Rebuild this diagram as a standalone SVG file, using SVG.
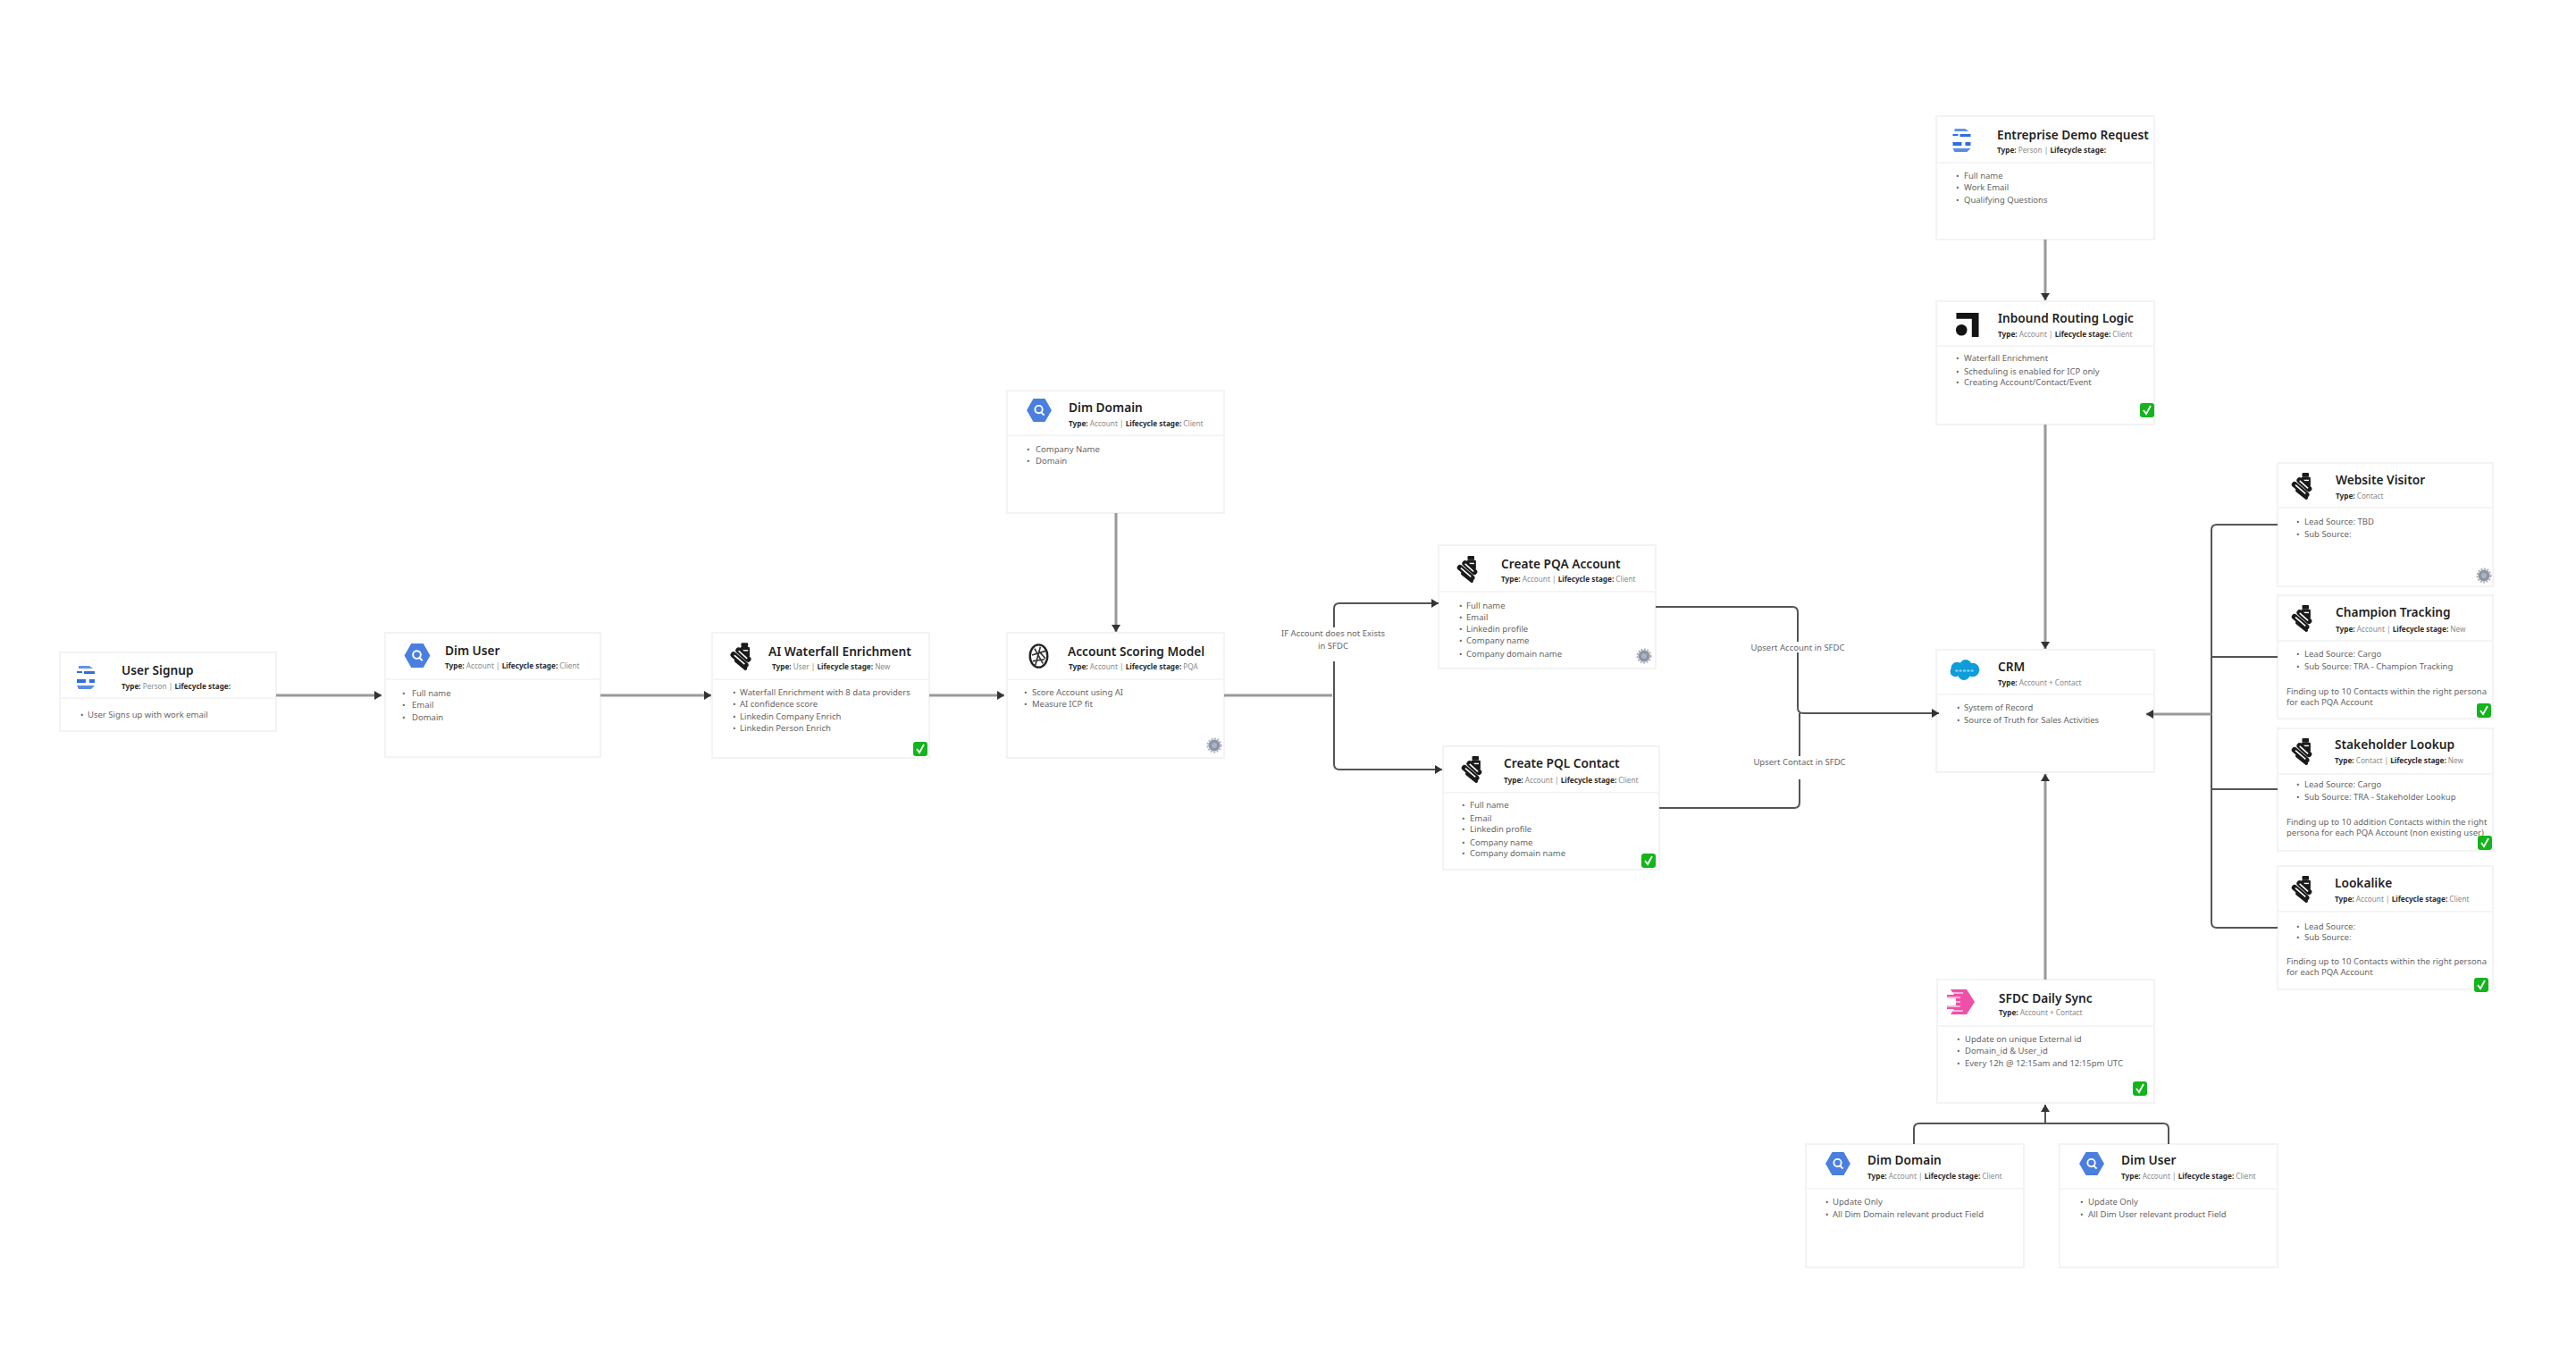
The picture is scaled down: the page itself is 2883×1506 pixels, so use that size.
<svg xmlns="http://www.w3.org/2000/svg" width="2883" height="1506" viewBox="0 0 2883 1506">
<style>
text{font-family:"Noto Sans","Open Sans","Liberation Sans",sans-serif}
.card{fill:#fff;stroke:#f3f3f3;stroke-width:2}
.sep{stroke:#f5f5f5;stroke-width:2}
.t{font-size:13.700px;font-weight:600;fill:#1f1f1f}
.m{font-size:8.200px;fill:#8a8a8a}
.m tspan{font-weight:700;fill:#2b2b2b}
.b{font-size:9.500px;fill:#666}
.l{font-size:9.500px;fill:#666;text-anchor:middle}
.c{fill:none;stroke:#555;stroke-width:2}
.g{fill:none;stroke:#999;stroke-width:3}
</style>
<defs>
<marker id="ah" markerUnits="userSpaceOnUse" markerWidth="9" markerHeight="10" refX="8" refY="5" orient="auto"><path d="M0 0L8 5L0 10Z" fill="#333"/></marker>
<symbol id="form" viewBox="0 0 20 26" overflow="visible"><g fill="#2f6fe0"><path d="M2 0H14L18 3H2Z" opacity=".75"/><rect x="0" y="6" width="6" height="2"/><rect x="8" y="6" width="12" height="3"/><rect x="0" y="15" width="10" height="4"/><rect x="14" y="15" width="6" height="4"/><path d="M0 22H20L16 26H2Z" opacity=".8"/></g></symbol>
<symbol id="bq" viewBox="0 0 30 28" overflow="visible"><path d="M8 0H22L30 14L22 28H8L0 14Z" fill="#4a7fe0"/><circle cx="14.500" cy="13" r="4.500" fill="none" stroke="#fff" stroke-width="2"/><path d="M17 16L21 20" stroke="#fff" stroke-width="2"/></symbol>
<symbol id="clay" viewBox="0 0 24 32" overflow="visible"><rect x="12" y="0" width="8" height="5" rx="1" fill="#1a1a1a"/><rect x="11" y="5" width="11" height="11" rx="1" fill="#1a1a1a"/><path d="M14 9H20" stroke="#fff" stroke-width="1.500"/><path d="M9 9L20 19M3 14L17 26" stroke="#1a1a1a" stroke-width="7" stroke-linecap="round" fill="none"/><path d="M9 9.500L19 18.500M4 14.500L16 25" stroke="#fff" stroke-width="1.600" fill="none"/><path d="M6 21L17 30" stroke="#1a1a1a" stroke-width="4" stroke-linecap="round"/></symbol>
<symbol id="ai" viewBox="0 0 24 30" overflow="visible"><ellipse cx="12" cy="15" rx="10.500" ry="13.500" fill="none" stroke="#222" stroke-width="2.500"/><path d="M7 6L17 24M4 14L20 9M5 21L19 19M14 4L8 26M12 9L20 18" stroke="#333" stroke-width="1.800" fill="none"/></symbol>
<symbol id="route" viewBox="0 0 26 28" overflow="visible"><path d="M0 0H26V28H18V7H0Z" fill="#141414"/><circle cx="6" cy="20" r="6.500" fill="#141414"/></symbol>
<symbol id="sf" viewBox="0 0 35 26" overflow="visible"><g fill="#0d9dda"><circle cx="9" cy="11" r="7"/><circle cx="19" cy="8" r="7"/><circle cx="27" cy="13" r="8"/><circle cx="17" cy="18" r="7"/><circle cx="7" cy="15" r="6"/></g><path d="M7 14H29" stroke="#9fd8f2" stroke-width="2" stroke-dasharray="3 1.500"/></symbol>
<symbol id="sync" viewBox="0 0 31 28" overflow="visible"><path d="M4 0H22L31 14L22 28H4L8 22H0V18H10V10H0V6H8Z" fill="#f04fa8"/><path d="M0 4H18M0 9H15M0 14H15M0 19H15M2 24H18" stroke="#fff" stroke-width="1.400" opacity=".75"/></symbol>
<symbol id="ok" viewBox="0 0 16 16" overflow="visible"><rect width="16" height="16" rx="3" fill="#13b41c"/><path d="M4 8L7 12L12 3" stroke="#fff" stroke-width="1.800" fill="none"/></symbol>
<symbol id="gear" viewBox="0 0 16 16" overflow="visible"><circle cx="8" cy="8" r="6.500" fill="#8d95a3"/><circle cx="8" cy="8" r="7.500" fill="none" stroke="#aab0ba" stroke-width="2" stroke-dasharray="2 1.500"/><circle cx="8" cy="8" r="3" fill="#a9b4c6"/></symbol>
</defs>
<rect width="2883" height="1506" fill="#fff"/>
<g id="user-signup"><rect class="card" x="67" y="730" width="242" height="88"/><path class="sep" d="M67 781H309"/><use href="#form" x="86" y="745" width="20" height="26"/><text class="t" x="136" y="755">User Signup</text><text class="m" x="136" y="771"><tspan>Type:</tspan> Person | <tspan>Lifecycle stage:</tspan></text><text class="b" x="90" y="803">•</text><text class="b" x="98" y="803">User Signs up with work email</text></g>
<g id="dim-user"><rect class="card" x="431" y="708" width="241" height="139"/><path class="sep" d="M431 760H672"/><use href="#bq" x="452" y="720" width="30" height="27"/><text class="t" x="498" y="733">Dim User</text><text class="m" x="498" y="748"><tspan>Type:</tspan> Account | <tspan>Lifecycle stage:</tspan> Client</text><g class="b"><text x="450" y="779">•</text><text x="461" y="779">Full name</text><text x="450" y="792">•</text><text x="461" y="792">Email</text><text x="450" y="806">•</text><text x="461" y="806">Domain</text></g></g>
<g id="ai-waterfall"><rect class="card" x="797" y="708" width="243" height="140"/><path class="sep" d="M797 760H1040"/><use href="#clay" x="818" y="719" width="23" height="31"/><text class="t" x="860" y="734">AI Waterfall Enrichment</text><text class="m" x="864" y="749"><tspan>Type:</tspan> User | <tspan>Lifecycle stage:</tspan> New</text><g class="b"><text x="820" y="778">•</text><text x="828" y="778">Waterfall Enrichment with 8 data providers</text><text x="820" y="791">•</text><text x="828" y="791">AI confidence score</text><text x="820" y="805">•</text><text x="828" y="805">Linkedin Company Enrich</text><text x="820" y="818">•</text><text x="828" y="818">Linkedin Person Enrich</text></g><use href="#ok" x="1022" y="830" width="16" height="16"/></g>
<g id="dim-domain-top"><rect class="card" x="1127" y="437" width="243" height="137"/><path class="sep" d="M1127 487H1370"/><use href="#bq" x="1149" y="446" width="28" height="26"/><text class="t" x="1196" y="461">Dim Domain</text><text class="m" x="1196" y="477"><tspan>Type:</tspan> Account | <tspan>Lifecycle stage:</tspan> Client</text><g class="b"><text x="1149" y="506">•</text><text x="1159" y="506">Company Name</text><text x="1149" y="519">•</text><text x="1159" y="519">Domain</text></g></g>
<g id="account-scoring"><rect class="card" x="1127" y="708" width="243" height="140"/><path class="sep" d="M1127 760H1370"/><use href="#ai" x="1151" y="720" width="23" height="28"/><text class="t" x="1195" y="734">Account Scoring Model</text><text class="m" x="1196" y="749"><tspan>Type:</tspan> Account | <tspan>Lifecycle stage:</tspan> PQA</text><g class="b"><text x="1146" y="778">•</text><text x="1155" y="778">Score Account using AI</text><text x="1146" y="791">•</text><text x="1155" y="791">Measure ICP fit</text></g><use href="#gear" x="1351" y="826" width="16" height="16"/></g>
<g id="create-pqa"><rect class="card" x="1610" y="610" width="243" height="138"/><path class="sep" d="M1610 662H1853"/><use href="#clay" x="1631" y="622" width="23" height="30"/><text class="t" x="1680" y="636">Create PQA Account</text><text class="m" x="1680" y="651"><tspan>Type:</tspan> Account | <tspan>Lifecycle stage:</tspan> Client</text><g class="b"><text x="1633" y="681">•</text><text x="1641" y="681">Full name</text><text x="1633" y="694">•</text><text x="1641" y="694">Email</text><text x="1633" y="707">•</text><text x="1641" y="707">Linkedin profile</text><text x="1633" y="720">•</text><text x="1641" y="720">Company name</text><text x="1633" y="735">•</text><text x="1641" y="735">Company domain name</text></g><use href="#gear" x="1832" y="726" width="16" height="16"/></g>
<g id="create-pql"><rect class="card" x="1615" y="835" width="242" height="138"/><path class="sep" d="M1615 887H1857"/><use href="#clay" x="1636" y="846" width="23" height="30"/><text class="t" x="1683" y="859">Create PQL Contact</text><text class="m" x="1683" y="876"><tspan>Type:</tspan> Account | <tspan>Lifecycle stage:</tspan> Client</text><g class="b"><text x="1636" y="904">•</text><text x="1645" y="904">Full name</text><text x="1636" y="919">•</text><text x="1645" y="919">Email</text><text x="1636" y="931">•</text><text x="1645" y="931">Linkedin profile</text><text x="1636" y="946">•</text><text x="1645" y="946">Company name</text><text x="1636" y="958">•</text><text x="1645" y="958">Company domain name</text></g><use href="#ok" x="1837" y="955" width="16" height="16"/></g>
<g id="enterprise-demo"><rect class="card" x="2167" y="130" width="244" height="138"/><path class="sep" d="M2167 182H2411"/><use href="#form" x="2185" y="144" width="21" height="26"/><text class="t" x="2235" y="156">Entreprise Demo Request</text><text class="m" x="2235" y="171"><tspan>Type:</tspan> Person | <tspan>Lifecycle stage:</tspan></text><g class="b"><text x="2189" y="200">•</text><text x="2198" y="200">Full name</text><text x="2189" y="213">•</text><text x="2198" y="213">Work Email</text><text x="2189" y="227">•</text><text x="2198" y="227">Qualifying Questions</text></g></g>
<g id="inbound-routing"><rect class="card" x="2167" y="337" width="244" height="138"/><path class="sep" d="M2167 387H2411"/><use href="#route" x="2189" y="350" width="26" height="27"/><text class="t" x="2236" y="361">Inbound Routing Logic</text><text class="m" x="2236" y="377"><tspan>Type:</tspan> Account | <tspan>Lifecycle stage:</tspan> Client</text><g class="b"><text x="2189" y="404">•</text><text x="2198" y="404">Waterfall Enrichment</text><text x="2189" y="419">•</text><text x="2198" y="419">Scheduling is enabled for ICP only</text><text x="2189" y="431">•</text><text x="2198" y="431">Creating Account/Contact/Event</text></g><use href="#ok" x="2395" y="451" width="16" height="16"/></g>
<g id="crm"><rect class="card" x="2167" y="727" width="244" height="137"/><path class="sep" d="M2167 777H2411"/><use href="#sf" x="2181" y="737" width="35" height="25"/><text class="t" x="2236" y="751">CRM</text><text class="m" x="2236" y="767"><tspan>Type:</tspan> Account + Contact</text><g class="b"><text x="2190" y="795">•</text><text x="2198" y="795">System of Record</text><text x="2190" y="809">•</text><text x="2198" y="809">Source of Truth for Sales Activities</text></g></g>
<g id="website-visitor"><rect class="card" x="2549" y="518" width="241" height="138"/><path class="sep" d="M2549 568H2790"/><use href="#clay" x="2565" y="529" width="23" height="30"/><text class="t" x="2614" y="542">Website Visitor</text><text class="m" x="2614" y="558"><tspan>Type:</tspan> Contact</text><g class="b"><text x="2570" y="587">•</text><text x="2579" y="587">Lead Source: TBD</text><text x="2570" y="601">•</text><text x="2579" y="601">Sub Source:</text></g><use href="#gear" x="2772" y="636" width="16" height="16"/></g>
<g id="champion-tracking"><rect class="card" x="2549" y="666" width="241" height="138"/><path class="sep" d="M2549 717H2790"/><use href="#clay" x="2565" y="677" width="23" height="30"/><text class="t" x="2614" y="690">Champion Tracking</text><text class="m" x="2614" y="707"><tspan>Type:</tspan> Account | <tspan>Lifecycle stage:</tspan> New</text><g class="b"><text x="2570" y="735">•</text><text x="2579" y="735">Lead Source: Cargo</text><text x="2570" y="749">•</text><text x="2579" y="749">Sub Source: TRA - Champion Tracking</text><text x="2559" y="777">Finding up to 10 Contacts within the right persona</text><text x="2559" y="789">for each PQA Account</text></g><use href="#ok" x="2772" y="787" width="16" height="16"/></g>
<g id="stakeholder-lookup"><rect class="card" x="2549" y="815" width="241" height="137"/><path class="sep" d="M2549 866H2790"/><use href="#clay" x="2565" y="826" width="23" height="30"/><text class="t" x="2613" y="838">Stakeholder Lookup</text><text class="m" x="2613" y="854"><tspan>Type:</tspan> Contact | <tspan>Lifecycle stage:</tspan> New</text><g class="b"><text x="2570" y="881">•</text><text x="2579" y="881">Lead Source: Cargo</text><text x="2570" y="895">•</text><text x="2579" y="895">Sub Source: TRA - Stakeholder Lookup</text><text x="2559" y="923">Finding up to 10 addition Contacts within the right</text><text x="2559" y="935">persona for each PQA Account (non existing user)</text></g><use href="#ok" x="2773" y="935" width="16" height="16"/></g>
<g id="lookalike"><rect class="card" x="2549" y="969" width="241" height="138"/><path class="sep" d="M2549 1020H2790"/><use href="#clay" x="2565" y="980" width="23" height="30"/><text class="t" x="2613" y="993">Lookalike</text><text class="m" x="2613" y="1009"><tspan>Type:</tspan> Account | <tspan>Lifecycle stage:</tspan> Client</text><g class="b"><text x="2570" y="1040">•</text><text x="2579" y="1040">Lead Source:</text><text x="2570" y="1052">•</text><text x="2579" y="1052">Sub Source:</text><text x="2559" y="1079">Finding up to 10 Contacts within the right persona</text><text x="2559" y="1091">for each PQA Account</text></g><use href="#ok" x="2769" y="1094" width="16" height="16"/></g>
<g id="sfdc-sync"><rect class="card" x="2168" y="1096" width="243" height="138"/><path class="sep" d="M2168 1148H2411"/><use href="#sync" x="2179" y="1107" width="31" height="28"/><text class="t" x="2237" y="1122">SFDC Daily Sync</text><text class="m" x="2237" y="1136"><tspan>Type:</tspan> Account + Contact</text><g class="b"><text x="2190" y="1166">•</text><text x="2199" y="1166">Update on unique External id</text><text x="2190" y="1179">•</text><text x="2199" y="1179">Domain_id &amp; User_id</text><text x="2190" y="1193">•</text><text x="2199" y="1193">Every 12h @ 12:15am and 12:15pm UTC</text></g><use href="#ok" x="2387" y="1210" width="16" height="16"/></g>
<g id="dim-domain-bottom"><rect class="card" x="2021" y="1280" width="244" height="138"/><path class="sep" d="M2021 1330H2265"/><use href="#bq" x="2043" y="1289" width="28" height="26"/><text class="t" x="2090" y="1303">Dim Domain</text><text class="m" x="2090" y="1319"><tspan>Type:</tspan> Account | <tspan>Lifecycle stage:</tspan> Client</text><g class="b"><text x="2043" y="1348">•</text><text x="2051" y="1348">Update Only</text><text x="2043" y="1362">•</text><text x="2051" y="1362">All Dim Domain relevant product Field</text></g></g>
<g id="dim-user-bottom"><rect class="card" x="2305" y="1280" width="244" height="138"/><path class="sep" d="M2305 1330H2549"/><use href="#bq" x="2327" y="1289" width="28" height="26"/><text class="t" x="2374" y="1303">Dim User</text><text class="m" x="2374" y="1319"><tspan>Type:</tspan> Account | <tspan>Lifecycle stage:</tspan> Client</text><g class="b"><text x="2328" y="1348">•</text><text x="2337" y="1348">Update Only</text><text x="2328" y="1362">•</text><text x="2337" y="1362">All Dim User relevant product Field</text></g></g>
<g id="connectors">
<path class="g" d="M309 778H427" marker-end="url(#ah)"/>
<path class="g" d="M672 778H796" marker-end="url(#ah)"/>
<path class="g" d="M1040 778H1124" marker-end="url(#ah)"/>
<path class="g" d="M1249 574V707" marker-end="url(#ah)"/>
<path class="g" d="M1370 778H1491"/>
<path class="c" d="M1493 778V681Q1493 675 1499 675H1610" marker-end="url(#ah)"/>
<path class="c" d="M1493 778V855Q1493 861 1499 861H1614" marker-end="url(#ah)"/>
<path class="c" d="M1853 679H2006Q2012 679 2012 685V792Q2012 798 2018 798H2170" marker-end="url(#ah)"/>
<path class="c" d="M1857 904H2008Q2014 904 2014 898V798"/>
<path class="g" d="M2289 268V336" marker-end="url(#ah)"/>
<path class="g" d="M2289 475V726" marker-end="url(#ah)"/>
<path class="g" d="M2289 1096V866" marker-end="url(#ah)"/>
<path class="c" d="M2142 1280V1263Q2142 1257 2148 1257H2421Q2427 1257 2427 1263V1280"/>
<path class="c" d="M2289 1257V1236" marker-end="url(#ah)"/>
<path class="c" d="M2549 587H2481Q2475 587 2475 593V1032Q2475 1038 2481 1038H2549"/>
<path class="c" d="M2549 735H2475"/>
<path class="c" d="M2549 883H2475"/>
<path class="g" d="M2475 799H2402" marker-end="url(#ah)"/>
</g>
<g id="connector-labels">
<rect x="1430" y="702" width="125" height="38" fill="#fff"/>
<text class="l" x="1492" y="712">IF Account does not Exists</text>
<text class="l" x="1492" y="726">in SFDC</text>
<rect x="1958" y="718" width="108" height="12" fill="#fff"/>
<text class="l" x="2012" y="728">Upsert Account in SFDC</text>
<rect x="1958" y="846" width="108" height="26" fill="#fff"/>
<text class="l" x="2014" y="856">Upsert Contact in SFDC</text>
</g>
</svg>
